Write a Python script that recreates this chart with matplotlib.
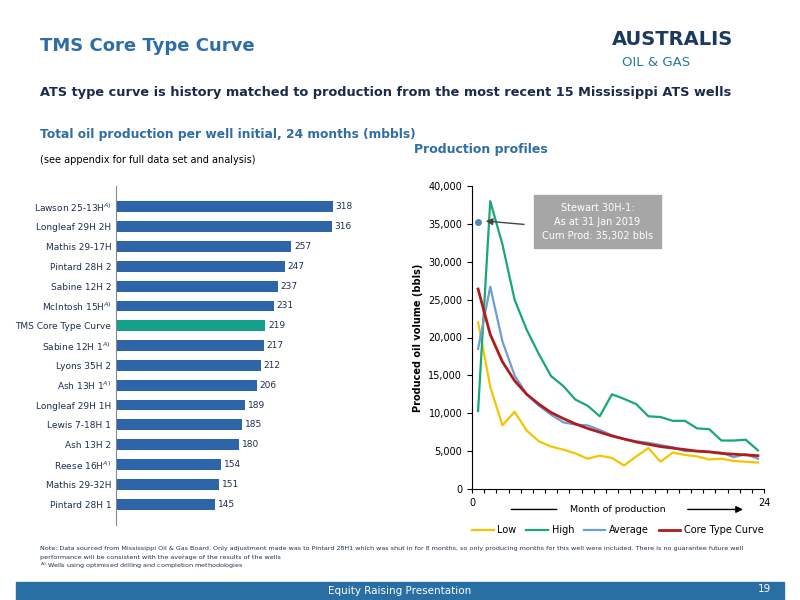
import numpy as np
from matplotlib import pyplot as plt
from matplotlib.patches import Rectangle

# bar data
wells = ["Lawson 25-13H$^{A)}$", "Longleaf 29H 2H", "Mathis 29-17H", "Pintard 28H 2", "Sabine 12H 2",
         "McIntosh 15H$^{A)}$", "TMS Core Type Curve", "Sabine 12H 1$^{A)}$", "Lyons 35H 2", "Ash 13H 1$^{A)}$",
         "Longleaf 29H 1H", "Lewis 7-18H 1", "Ash 13H 2", "Reese 16H$^{A)}$", "Mathis 29-32H", "Pintard 28H 1"]
totals = [318, 316, 257, 247, 237, 231, 219, 217, 212, 206, 189, 185, 180, 154, 151, 145]

# production profiles (bbls per month)
months = np.arange(24) + 0.5
low = [22000, 13500, 8400, 10200, 7700, 6300, 5600, 5200, 4700, 4000, 4400, 4100,
       3100, 4300, 5400, 3600, 4800, 4500, 4300, 3900, 4000, 3700, 3600, 3500]
high = [10300, 38000, 32300, 25000, 21000, 17800, 14900, 13600, 11800, 11000, 9600, 12500,
        11900, 11200, 9600, 9500, 9000, 9000, 8000, 7900, 6400, 6400, 6500, 5100]
average = [18500, 26700, 19500, 15000, 12500, 11000, 9800, 8800, 8500, 8400, 7800, 7100,
           6600, 6300, 6100, 5800, 5500, 5000, 5000, 4900, 4800, 4200, 4600, 4000]
core = [26400, 20400, 16800, 14300, 12500, 11200, 10100, 9300, 8600, 8000, 7500, 7000,
        6600, 6200, 5900, 5600, 5400, 5200, 5000, 4900, 4700, 4600, 4500, 4400]

blue = "#2e64a8"
dark = "#1f2f4f"
fig = plt.figure(figsize=(8, 6), dpi=100)
fig.patch.set_facecolor("white")

fig.text(0.05, 0.915, "TMS Core Type Curve", fontsize=13, fontweight="bold", color="#2f6da6")
fig.text(0.05, 0.84, "ATS type curve is history matched to production from the most recent 15 Mississippi ATS wells",
         fontsize=9.3, fontweight="bold", color="#1b2a4a")
fig.text(0.765, 0.925, "AUSTRALIS", fontsize=14, fontweight="bold", color="#1b3a60")
fig.text(0.778, 0.89, "OIL & GAS", fontsize=9.5, color="#2a7a9a")
fig.text(0.05, 0.77, "Total oil production per well initial, 24 months (mbbls)", fontsize=8.8,
         fontweight="bold", color="#2f6da6")
fig.text(0.05, 0.728, "(see appendix for full data set and analysis)", fontsize=7, color="black")
fig.text(0.518, 0.745, "Production profiles", fontsize=9, fontweight="bold", color="#2f6da6")

# bars
ax = fig.add_axes([0.145, 0.125, 0.29, 0.565])
y = np.arange(len(wells))
cols = ["#14a08c" if w.startswith("TMS") else blue for w in wells]
ax.barh(y, totals, color=cols, height=0.55)
for yi, v in zip(y, totals):
    ax.text(v + 4, yi, str(v), va="center", fontsize=6.5, color=dark)
ax.set_yticks(y)
ax.set_yticklabels(wells, fontsize=6.5, color=dark)
ax.invert_yaxis()
ax.set_xlim(0, 340)
ax.set_xticks([])
for s in ["top", "right", "bottom"]:
    ax.spines[s].set_visible(False)
ax.spines["left"].set_color("#888888")
ax.tick_params(axis="y", length=0)

# lines
ax2 = fig.add_axes([0.59, 0.185, 0.365, 0.505])
ax2.plot(months, low, color="#f5c400", lw=1.6, label="Low")
ax2.plot(months, high, color="#18a870", lw=1.6, label="High")
ax2.plot(months, average, color="#6a9fd4", lw=1.6, label="Average")
ax2.plot(months, core, color="#b01c1c", lw=2, label="Core Type Curve")
ax2.plot([0.5], [35302], "o", color="#5a85b8", ms=4)
ax2.annotate("", xy=(0.9, 35400), xytext=(4.5, 34900),
             arrowprops=dict(arrowstyle="-|>", color="#444444", lw=1))
ax2.text(10.3, 35300, "Stewart 30H-1:\nAs at 31 Jan 2019\nCum Prod: 35,302 bbls", ha="center", va="center",
         fontsize=7, color="white", linespacing=1.5, zorder=5,
         bbox=dict(boxstyle="square,pad=0.8", fc="#a6a6a6", ec="#a6a6a6"))
ax2.set_xlim(0, 24)
ax2.set_ylim(0, 40000)
ax2.set_yticks(np.arange(0, 40001, 5000))
ax2.set_yticklabels([f"{v:,}" for v in range(0, 40001, 5000)], fontsize=7)
ax2.set_xticks(np.arange(0, 25))
ax2.set_xticklabels(["0"] + [""] * 23 + ["24"], fontsize=7)
ax2.tick_params(axis="x", length=3)
ax2.set_ylabel("Produced oil volume (bbls)", fontsize=7, fontweight="bold")
for s in ["top", "right"]:
    ax2.spines[s].set_visible(False)
ax2.text(12, -2700, "Month of production", ha="center", va="center", fontsize=6.8)
ax2.annotate("", xy=(7.2, -2700), xytext=(3, -2700), annotation_clip=False,
             arrowprops=dict(arrowstyle="-", color="black", lw=1))
ax2.annotate("", xy=(22.5, -2700), xytext=(17.5, -2700), annotation_clip=False,
             arrowprops=dict(arrowstyle="-|>", color="black", lw=1))
ax2.legend(loc="upper center", bbox_to_anchor=(0.5, -0.09), ncol=4, frameon=False, fontsize=7,
           handlelength=2.2, columnspacing=1.0, handletextpad=0.4)

fig.text(0.05, 0.083, "Note: Data sourced from Mississippi Oil & Gas Board. Only adjustment made was to Pintard 28H1 which was shut in for 8 months, "
         "so only producing months for this well were included. There is no guarantee future well", fontsize=4.6, color=dark)
fig.text(0.05, 0.068, "performance will be consistent with the average of the results of the wells", fontsize=4.6, color=dark)
fig.text(0.05, 0.053, "$^{A)}$ Wells using optimised drilling and completion methodologies", fontsize=4.6, color=dark)

fig.patches.append(Rectangle((0.02, 0.0), 0.96, 0.03, transform=fig.transFigure, color="#2a6fa3"))
fig.text(0.5, 0.015, "Equity Raising Presentation", ha="center", va="center", fontsize=7.5, color="white")
fig.text(0.955, 0.018, "19", ha="center", va="center", fontsize=7.5, color="white")

fig.savefig("out.png", dpi=100)
